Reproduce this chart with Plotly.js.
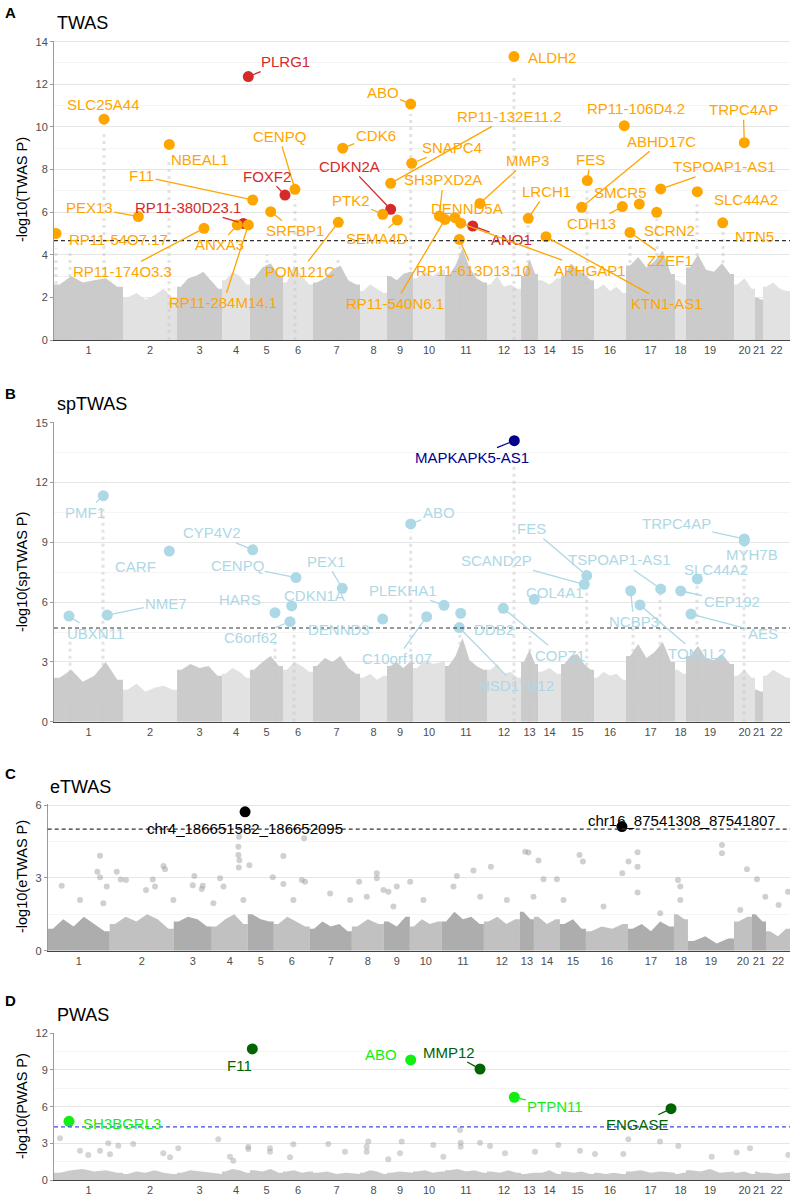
<!DOCTYPE html>
<html><head><meta charset="utf-8">
<script src="https://cdn.plot.ly/plotly-3.0.1.min.js"></script>
<style>html,body{margin:0;padding:0;background:#fff}#chart{width:793px;height:1199px}</style>
</head><body><div id="chart"></div>
<script>
// ---------------- DATA ----------------
const chrNames = ['1','2','3','4','5','6','7','8','9','10','11','12','13','14','15','16','17','18','19','20','21','22'];
// relative chromosome widths (gene-index units) for panels A, B, D and for panel C
const chrWidthMain = [69,54,45,28,33,30,47,27,26,32,42,34,17,23,33,32,49,11,48,21,8,27];
const chrWidthE = [62,64,38,36,26,36,42,32,26,32,42,36,14,26,26,42,46,14,46,18,14,24];

// Panel A: TWAS
const twasGenes = ['PLRG1','ALDH2','SLC25A44','ABO','RP11-106D4.2','TRPC4AP','NBEAL1','CDK6','CENPQ','RP11-132E11.2','SNAPC4','MMP3','FES','ABHD17C','TSPOAP1-AS1','FOXF2','CDKN2A','F11','SH3PXD2A','LRCH1','SMCR5','SLC44A2','PTK2','PEX13','RP11-380D23.1','DENND5A','SRFBP1','CDH13','SCRN2','RP11-54O7.17','SEMA4D','ANO1','ANXA3','NTN5','ZZEF1','RP11-174O3.3','POM121C','RP11-613D13.10','RP11-540N6.1','ARHGAP1','KTN1-AS1','RP11-284M14.1'];
const twasPos = [194.3,460.0,50.0,356.7,570.3,690.3,115.3,288.7,241.0,336.7,357.7,426.0,533.3,527.7,606.7,231.0,336.7,198.7,385.3,474.3,585.3,643.3,328.7,84.3,189.3,401.0,216.7,568.3,602.7,2.0,343.3,418.7,183.3,668.7,576.0,150.0,284.3,405.3,391.0,406.7,492.0,194.3];
const twasLogP = [12.36,13.30,10.36,11.07,10.06,9.26,9.18,9.00,7.07,7.35,8.29,6.41,7.48,6.23,7.09,6.80,6.13,6.57,5.82,5.71,6.38,6.96,5.90,5.79,5.47,5.74,6.02,6.26,5.99,5.00,5.63,5.35,5.40,5.50,5.05,5.24,5.52,4.72,5.66,5.48,4.85,5.40];
const twasRed = ['PLRG1','FOXF2','CDKN2A','RP11-380D23.1','ANO1'];
const twasThreshold = 4.66;
const twasBg = [[2.6,3.0,2.7,2.8,2.9,2.5],[2.0,2.2,1.9,2.1,2.4,2.0],[2.5,2.9,3.0,3.2,2.8,2.4],[2.8,3.2,3.0,2.6],[2.9,3.4,3.6,3.0],[2.7,3.5,3.0,2.6],[2.7,2.9,3.3,3.5,2.8,2.6],[2.3,2.6,2.4,2.2],[3.0,2.8,3.1,3.2],[2.9,3.2,3.0,3.3],[3.0,3.5,4.3,3.4,2.9,2.7],[2.6,3.0,2.5,2.6,2.4],[3.0,3.8,3.1],[2.8,2.6,2.9],[3.0,3.6,3.3,3.1,2.8],[2.4,2.6,2.3,2.5,2.2],[3.5,3.9,3.4,3.7,4.2,3.1],[2.8,2.6],[3.4,4.0,3.3,3.2,3.6,3.1],[2.6,2.9,2.4],[2.0,1.9],[2.5,2.7,2.4,2.3]];
const twasColPos = [2,16,50,115,213,241,284,356.7,460,406,474,533,576,603,643,669];
const twasColTop = [4.3,4.2,9.8,8.5,4.0,6.6,3.9,10.6,12.3,4.6,5.4,7.0,4.9,5.7,6.5,5.3];

// Panel B: spTWAS
const spGenes = ['PMF1','CYP4V2','CARF','MAPKAPK5-AS1','ABO','TRPC4AP','MYH7B','FES','SCAND2P','TSPOAP1-AS1','SLC44A2','CEP192','AES','NCBP3','TOM1L2','COL4A1','COPZ1','DDB2','HSD17B12','PLEKHA1','C10orf107','UBXN11','NME7','CENPQ','PEX1','HARS','CDKN1A','C6orf62','DENND3'];
const spPos = [49.3,198.7,115.3,460.3,356.7,690.3,690.3,532.7,530.3,606.7,643.3,626.7,637.0,576.7,586.0,480.3,449.3,406.7,405.3,390.0,372.7,15.0,53.3,242.0,288.3,221.0,237.7,236.0,328.7];
const spLogP = [11.34,8.62,8.56,14.10,9.92,9.17,9.07,7.33,6.89,6.66,7.16,6.56,5.40,6.57,5.86,6.14,5.69,5.44,4.72,5.84,5.27,5.30,5.35,7.23,6.69,5.47,5.81,5.02,5.15];
const spDark = ['MAPKAPK5-AS1'];
const spThreshold = 4.70;
const spBg = [[2.2,2.6,2.0,2.3,3.0,2.1],[1.6,1.9,1.5,1.7,1.8,1.6],[2.6,2.9,2.7,2.8,2.3],[2.4,2.7,2.5,2.2],[2.6,3.0,3.3,2.8],[2.6,3.0,2.8,2.5],[2.8,3.2,3.0,3.3,2.7,2.4],[2.2,2.4,2.1,2.3],[2.8,3.0,2.7,3.0],[2.7,3.1,2.9,3.0],[2.8,3.3,4.2,3.1,2.8,2.6],[2.6,2.9,2.4,2.5,2.2],[3.0,3.6,2.9],[2.5,2.7,2.4],[2.9,3.3,3.4,2.9,2.6],[2.2,2.5,2.3,2.4,2.1],[3.3,3.9,3.2,3.5,4.0,3.0],[2.6,2.4],[3.3,3.8,3.2,3.1,3.4,2.9],[2.3,2.6,2.2],[1.6,1.5],[2.3,2.6,2.4,2.2]];
const spColPos = [49,16,221,240,356.7,406,460,476,532.7,579,606,643,690];
const spColTop = [10.8,4.2,4.1,5.0,9.5,4.8,13.5,4.3,7.1,5.0,6.4,6.9,8.9];

// Panel C: eTWAS
const eGenes = ['chr4_186651582_186652095','chr16_87541308_87541807'];
const ePos = [197.3,574.0];
const eLogP = [5.72,5.11];
const eThreshold = 5.01;
const eBg = [[0.9,1.3,1.0,1.4,1.1,0.8],[1.1,1.4,1.2,1.5,1.3,0.9],[1.2,1.4,1.3,1.0],[1.0,1.3,1.5,1.1],[1.5,1.3,1.2],[1.1,1.4,1.2,1.0],[0.9,1.2,1.0,1.1,0.8],[1.0,1.3,1.1],[1.2,1.0,1.4],[1.0,1.3,1.1,1.2],[1.2,1.6,1.3,1.4,1.1],[1.2,1.4,1.1,1.3],[1.6,1.3],[1.4,1.1,1.3],[1.1,1.3,0.9],[0.8,1.0,0.9,1.1],[0.9,1.1,0.8,1.2,1.0],[1.5,1.3],[0.4,0.6,0.3,0.5],[1.2,1.4],[1.5,1.2],[0.8,0.6,0.9]];
const eDotPos = [52.3,49.6,52.3,14,69,73,78.3,59,115.7,117.3,105,107.3,154,155,146.6,172.3,175.7,191,190.6,190.6,191.6,201.6,191.3,235.6,235.6,225,254,257.3,329,329,311.3,349,340.6,256.3,145,477.3,480.6,490.6,531.6,535,580.6,589.6,589.6,674,674,443,409,425.6,699,709,630,574.3,589.6,362.3,509,495.6,740,32.3,55.6,98.3,125.6,165.6,195.6,245.6,282.3,302.3,319,335.6,345.6,375.6,405.6,432.3,459,485.6,515.6,555.6,612.3,632.3,632.3,692.3,730.6,717.3];
const eDotLogP = [3.91,3.25,3.02,2.68,3.25,2.93,2.91,2.64,3.49,3.35,2.93,2.64,2.54,2.68,3.08,2.98,2.64,3.43,4.28,3.94,3.73,3.52,4.69,3.90,2.75,3.02,2.91,2.84,3.19,2.98,2.84,2.64,2.43,4.63,2.70,4.08,4.04,3.71,3.94,3.67,3.67,4.05,3.46,4.35,4.01,3.46,3.08,3.30,3.35,2.94,2.91,3.19,2.40,2.84,2.94,2.94,2.43,2.09,1.95,2.50,2.09,1.95,2.09,2.09,2.36,2.09,2.22,2.50,1.82,2.09,2.64,2.22,2.09,2.22,2.09,1.82,1.54,2.64,2.09,1.68,1.88,2.22];

// Panel D: PWAS
const pGenes = ['SH3BGRL3','F11','ABO','MMP12','PTPN11','ENGASE'];
const pPos = [15,198.3,356.7,426,460.3,617];
const pLogP = [4.80,10.72,9.82,9.08,6.77,5.83];
const pDarkGenes = ['F11','MMP12','ENGASE'];
const pThreshold = 4.34;
const pBg = [[0.6,0.8,0.9,0.7,0.8,0.6],[0.5,0.7,0.6,0.8,0.6,0.5],[0.6,0.8,0.7,0.6,0.5],[0.7,0.9,0.8,0.6],[0.8,0.7,0.9,0.6],[0.7,0.8,0.6,0.7],[0.6,0.7,0.5,0.6,0.5],[0.6,0.8,0.7,0.5],[0.6,0.7,0.6],[0.7,0.8,0.6,0.7],[0.8,0.9,0.7,0.8,0.6],[0.7,0.6,0.8,0.6],[0.5,0.6],[0.6,0.8,0.5],[0.7,0.6,0.7,0.5],[0.6,0.5,0.6,0.5],[0.7,0.8,0.6,0.7,0.6],[0.5,0.6],[0.8,0.7,0.9,0.6,0.7],[0.6,0.7,0.5],[0.7,0.6],[0.6,0.5,0.6]];
const pDotPos = [6,26,34.3,46,56,54.3,64.3,79.3,109.3,116,164.3,124.3,194.3,194.3,176,179.3,216,216,236,239.3,274.3,291,312.7,314.3,312.7,334.3,347.7,379.3,406,406.7,406.7,426,436,451,481,504.3,526,541,574.3,569.3,606,624.3,657.7,682.7,696,734.3,346,389.3];
const pDotLogP = [3.41,2.40,2.04,2.40,2.10,3.00,2.81,2.95,2.18,1.86,3.33,2.59,2.54,2.73,1.91,1.58,2.59,2.32,1.86,2.92,2.95,2.32,2.32,3.14,2.73,1.69,3.14,2.86,4.09,3.05,2.73,3.05,2.78,2.18,2.32,2.86,2.40,2.13,3.33,2.13,3.14,2.78,1.91,2.24,2.59,2.05,2.18,1.91];

// ---------------- LABEL LAYOUT (pixel offsets of label from point; 1 = leader line) ----------------
const twasLab = [[37,-15,1],[38,1,0],[-1,-15,0],[-28,-12,1],[12,-17,0],[-1,-33,1],[31,15,0],[33,-13,1],[-16,-53,1],[119,-67,1],[40,-16,1],[47,-43,1],[3,-21,1],[80,-66,1],[64,-22,1],[-18,-19,1],[-41,-43,1],[-111,-24,1],[4,-36,1],[18,-27,1],[-19,-12,0],[49,8,0],[-32,-14,1],[-49,-9,1],[-55,-16,1],[12,-9,0],[24,19,1],[-31,17,1],[13,18,0],[62,6,0],[-20,18,1],[39,14,1],[-18,20,1],[32,14,0],[40,28,1],[-82,43,1],[-38,49,1],[14,31,1],[-50,84,1],[129,47,1],[121,67,1],[-25,78,1]];
const spLab = [[-18,17,1],[-41,-17,1],[-34,15,0],[-42,17,1],[28,-11,1],[-68,-15,1],[8,14,0],[-55,-47,1],[-88,-24,1],[-41,-29,1],[19,-9,0],[51,11,1],[72,19,1],[3,31,1],[57,49,1],[21,-7,0],[57,47,1],[33,16,0],[57,58,1],[-41,-15,1],[-30,42,1],[26,17,1],[59,-12,1],[-59,-12,1],[-16,-27,1],[-35,-13,0],[23,-10,0],[-40,16,1],[-44,10,0]];
const eLab = [[0,17,0],[60,-6,0]];
const pLab = [[53,2,0],[-13,17,0],[-30,-5,0],[-31,-17,1],[41,9,1],[-34,16,1]];

// ---------------- BUILD ----------------
const FONT = 'Liberation Sans, Arial, Helvetica, sans-serif';
const W = 793, H = 1199;
function starts(widths){const s=[0];for(let i=0;i<widths.length-1;i++)s.push(s[i]+widths[i]);return s;}
function centers(widths){const s=starts(widths);return widths.map((w,i)=>s[i]+w/2);}
function sum(a){return a.reduce((p,c)=>p+c,0);}

const traces = [];
const annotations = [];
const shapes = [];

function bg(heights, widths, xa, ya, colors){
  const s = starts(widths);
  heights.forEach((h,i)=>{
    const n=h.length, w=widths[i], st=s[i];
    const xs=[st], ys=[h[0]];
    h.forEach((v,k)=>{xs.push(st+(k+0.5)*w/n); ys.push(v);});
    xs.push(st+w); ys.push(h[n-1]);
    const c = colors[i%colors.length];
    traces.push({type:'scatter',mode:'lines',x:xs,y:ys,xaxis:xa,yaxis:ya,fill:'tozeroy',fillcolor:c,line:{width:0,color:c},hoverinfo:'skip'});
  });
}
function columns(pos, top, xa, ya){
  const xs=[], ys=[];
  pos.forEach((p,i)=>{xs.push(p,p,null); ys.push(0,top[i],null);});
  traces.push({type:'scatter',mode:'lines',x:xs,y:ys,xaxis:xa,yaxis:ya,line:{color:'rgba(200,200,200,0.5)',width:3,dash:'3px,4px'},hoverinfo:'skip'});
}
function dots(pos, vals, xa, ya, color){
  traces.push({type:'scatter',mode:'markers',x:pos,y:vals,xaxis:xa,yaxis:ya,marker:{size:6,color:color,line:{width:0}},hoverinfo:'skip'});
}
function hits(genes, pos, vals, colors, lab, xa, ya){
  traces.push({type:'scatter',mode:'markers',x:pos,y:vals,xaxis:xa,yaxis:ya,marker:{size:11,color:colors,line:{width:0}},text:genes,hoverinfo:'text'});
  genes.forEach((g,i)=>{
    const [dx,dy,ln] = lab[i];
    const a = {xref:xa,yref:ya,x:pos[i],y:vals[i],text:g,font:{family:FONT,size:15,color:colors[i]}};
    if(ln){Object.assign(a,{showarrow:true,ax:dx,ay:dy,arrowhead:0,arrowwidth:1.3,arrowcolor:colors[i],standoff:5});}
    else{Object.assign(a,{showarrow:false,xshift:dx,yshift:-dy});}
    annotations.push(a);
  });
}
function thresh(v, xa, ya, color){
  shapes.push({type:'line',xref:xa+' domain',yref:ya,x0:0,x1:1,y0:v,y1:v,line:{color:color,width:1.2,dash:'4px,3px'},layer:'above'});
}

const greyA = ['#CBCBCB','#E2E2E2'];
// Panel A
bg(twasBg, chrWidthMain, 'x', 'y', greyA);
columns(twasColPos, twasColTop, 'x', 'y');
hits(twasGenes, twasPos, twasLogP, twasGenes.map(g=>twasRed.includes(g)?'#D42A2A':'#FFA500'), twasLab, 'x', 'y');
thresh(twasThreshold, 'x', 'y', '#333333');
// Panel B
bg(spBg, chrWidthMain, 'x2', 'y2', greyA);
columns(spColPos, spColTop, 'x2', 'y2');
hits(spGenes, spPos, spLogP, spGenes.map(g=>spDark.includes(g)?'#00008B':'#ADD8E6'), spLab, 'x2', 'y2');
thresh(spThreshold, 'x2', 'y2', '#333333');
// Panel C
bg(eBg, chrWidthE, 'x3', 'y3', ['rgba(145,145,145,0.75)','rgba(172,172,172,0.75)']);
dots(eDotPos, eDotLogP, 'x3', 'y3', 'rgba(150,150,150,0.45)');
hits(eGenes, ePos, eLogP, eGenes.map(()=>'#000000'), eLab, 'x3', 'y3');
thresh(eThreshold, 'x3', 'y3', '#333333');
// Panel D
bg(pBg, chrWidthMain, 'x4', 'y4', ['rgba(150,150,150,0.5)']);
dots(pDotPos, pDotLogP, 'x4', 'y4', 'rgba(160,160,160,0.45)');
hits(pGenes, pPos, pLogP, pGenes.map(g=>pDarkGenes.includes(g)?'#006400':'#11EE11'), pLab, 'x4', 'y4');
thresh(pThreshold, 'x4', 'y4', '#4444EE');

function xAxis(widths, x0px, yAnchor){
  return {domain:[x0px/W, 790/W], range:[0,sum(widths)], anchor:yAnchor, tickmode:'array', tickvals:centers(widths), ticktext:chrNames,
    showgrid:false, zeroline:false, showline:true, linecolor:'#444', linewidth:1, ticks:'', tickfont:{family:FONT,size:11,color:'#4D4D4D'}, fixedrange:true};
}
function yAxis(topPx, botPx, maxV, dtick, xAnchor){
  return {domain:[1-botPx/H, 1-topPx/H], range:[0,maxV], anchor:xAnchor, dtick:dtick, tick0:0, showgrid:true, gridcolor:'#E6E6E6', gridwidth:1,
    minor:{dtick:dtick/2, showgrid:true, gridcolor:'#F2F2F2', gridwidth:0.8},
    zeroline:false, showline:true, linecolor:'#9A9A9A', linewidth:1, ticks:'outside', ticklen:3, tickcolor:'#9A9A9A',
    tickfont:{family:FONT,size:11,color:'#4D4D4D'}, fixedrange:true};
}

const layout = {
  width:W, height:H, margin:{l:0,r:0,t:0,b:0}, showlegend:false, paper_bgcolor:'#fff', plot_bgcolor:'#fff',
  font:{family:FONT},
  xaxis: xAxis(chrWidthMain, 54, 'y'),
  yaxis: yAxis(40.6, 340, 14.05, 2, 'x'),
  xaxis2: xAxis(chrWidthMain, 54, 'y2'),
  yaxis2: yAxis(421.7, 721.7, 15.05, 3, 'x2'),
  xaxis3: xAxis(chrWidthE, 47.7, 'y3'),
  yaxis3: yAxis(803.8, 950.7, 6.05, 3, 'x3'),
  xaxis4: xAxis(chrWidthMain, 54, 'y4'),
  yaxis4: yAxis(1032.7, 1180, 12.05, 3, 'x4'),
  shapes: shapes,
  annotations: annotations
};

function paperText(text, xpx, ypx, size, opts){
  return Object.assign({xref:'paper',yref:'paper',x:xpx/W,y:1-ypx/H,text:text,showarrow:false,xanchor:'left',yanchor:'middle',font:{family:FONT,size:size,color:'#000'}}, opts||{});
}
const panelTitles = [['A','TWAS',12,23,55,'-log10(TWAS P)',190],['B','spTWAS',393,404,55,'-log10(spTWAS P)',572],['C','eTWAS',773,787,48,'-log10(eTWAS P)',877],['D','PWAS',1000,1015,55,'-log10(PWAS P)',1106]];
panelTitles.forEach(([L,T,ly,ty,tx,yt,yc])=>{
  annotations.push(paperText('<b>'+L+'</b>', 3, ly, 15));
  annotations.push(paperText(T, tx, ty, 18));
  annotations.push(paperText(yt, 22, yc, 14.5, {xanchor:'center', textangle:-90}));
});

Plotly.newPlot('chart', traces, layout, {staticPlot:true, displayModeBar:false});
</script>
</body></html>
